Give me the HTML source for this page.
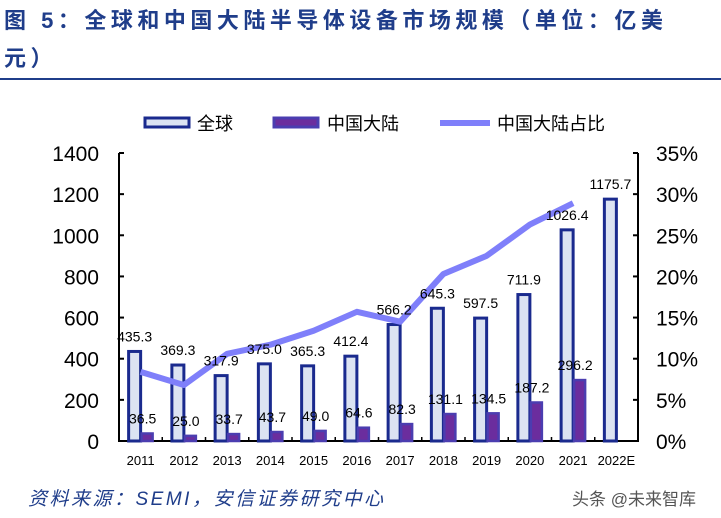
<!DOCTYPE html>
<html><head><meta charset="utf-8"><style>
body{margin:0;width:721px;height:518px;background:#fff;overflow:hidden;font-family:"Liberation Sans","Noto Sans CJK SC",sans-serif;}
#title{position:absolute;left:4px;top:2px;width:718px;white-space:nowrap;font-size:22px;font-weight:bold;color:#1f3d8a;line-height:38px;letter-spacing:4.5px;}
#rule{position:absolute;left:0;top:78px;width:721px;height:2px;background:#1f3d8a;}
#src{position:absolute;left:28px;top:484px;font-size:19px;font-style:italic;color:#1f3d8a;letter-spacing:2.5px;}
#wm{position:absolute;left:572px;top:485px;font-size:17px;color:#555;}
svg{position:absolute;left:0;top:0;}
</style></head><body>
<div id="title">图 5：全球和中国大陆半导体设备市场规模（单位：亿美<br>元）</div>
<div id="rule"></div>
<svg id="chart" width="721" height="518"></svg>
<div id="src">资料来源：SEMI，安信证券研究中心</div>
<div id="wm">头条 @未来智库</div>
<script>
const categories=["2011","2012","2013","2014","2015","2016","2017","2018","2019","2020","2021","2022E"];
const globalVals=[435.3,369.3,317.9,375.0,365.3,412.4,566.2,645.3,597.5,711.9,1026.4,1175.7];
const chinaVals=[36.5,25.0,33.7,43.7,49.0,64.6,82.3,131.1,134.5,187.2,296.2,null];
const shareVals=[8.4,6.8,10.6,11.7,13.4,15.7,14.5,20.3,22.5,26.3,28.9];
const leftTicks=[0,200,400,600,800,1000,1200,1400];
const rightTicks=[0,5,10,15,20,25,30,35];
const svg=document.getElementById('chart');
const NS='http://www.w3.org/2000/svg';
const X0=119,X1=638,Y0=441,Y1=153;
const bw=(X1-X0)/categories.length;
const cx=i=>X0+bw*(i+0.5);
const yL=v=>Y0-v*(Y0-Y1)/1400;
const yR=v=>Y0-v*(Y0-Y1)/35;
function mk(tag,attrs,txt){const e=document.createElementNS(NS,tag);for(const k in attrs)e.setAttribute(k,attrs[k]);if(txt!=null)e.textContent=txt;svg.appendChild(e);return e;}
let a=mk('path',{d:`M${X0} ${Y1}V${Y0}H${X1}V${Y1}`,fill:'none',stroke:'#000','stroke-width':2});


leftTicks.forEach(v=>{
 let t=mk('line',{x1:X0,x2:X0+5,y1:yL(v),y2:yL(v),stroke:'#000','stroke-width':2});
 
 
 let l=mk('text',{x:X0-20,y:yL(v)+8,'text-anchor':'end','font-size':21,fill:'#000'},v);
 
 
});
rightTicks.forEach(v=>{
 let t=mk('line',{x1:X1-5,x2:X1,y1:yR(v),y2:yR(v),stroke:'#000','stroke-width':2});
 
 
 let l=mk('text',{x:656,y:yR(v)+8,'font-size':21,fill:'#000'},v+'%');
 
 
});
categories.forEach((c,i)=>{
 if(i>0){let t=mk('line',{x1:X0+bw*i,x2:X0+bw*i,y1:Y0,y2:Y0-4,stroke:'#000','stroke-width':1.5});
 
 }
 let l=mk('text',{x:cx(i),y:465,'text-anchor':'middle','font-size':13,fill:'#000'},c);
 
 
 let g=globalVals[i];
 let b=mk('rect',{x:cx(i)-12,y:yL(g),width:12,height:Y0-yL(g),fill:'#dce3f2',stroke:'#1a2a8e','stroke-width':3});
 
 
 let cv=chinaVals[i];
 if(cv!=null){
  let p=mk('rect',{x:cx(i)+1,y:yL(cv),width:11,height:Y0-yL(cv),fill:'#6b2d9e',stroke:'#4b3db0','stroke-width':2.5});
  
  
 }
});
let ln=mk('polyline',{points:shareVals.map((v,i)=>cx(i)+','+yR(v)).join(' '),fill:'none',stroke:'#7f7ffa','stroke-width':6,'stroke-linejoin':'round'});


categories.forEach((c,i)=>{
 let g=globalVals[i];
 let gl=mk('text',{x:cx(i)-6,y:yL(g)-10,'text-anchor':'middle','font-size':14,fill:'#000'},g.toFixed(1));
 
 
 let cv=chinaVals[i];
 if(cv!=null){
  let pl=mk('text',{x:cx(i)+2,y:yL(cv)-10,'text-anchor':'middle','font-size':14,fill:'#000'},cv.toFixed(1));
  
  
 }
});
let l1=mk('rect',{x:145,y:118,width:44,height:9,fill:'#dce3f2',stroke:'#1a2a8e','stroke-width':3});


let t1=mk('text',{x:197,y:130,'font-size':18,fill:'#000'},'全球');


let l2=mk('rect',{x:274,y:118,width:44,height:9,fill:'#6b2d9e',stroke:'#4b3db0','stroke-width':3});


let t2=mk('text',{x:327,y:130,'font-size':18,fill:'#000'},'中国大陆');


let l3=mk('line',{x1:440,x2:490,y1:123,y2:123,stroke:'#7f7ffa','stroke-width':6});


let t3=mk('text',{x:497,y:130,'font-size':18,fill:'#000'},'中国大陆占比');


</script>
</body></html>
